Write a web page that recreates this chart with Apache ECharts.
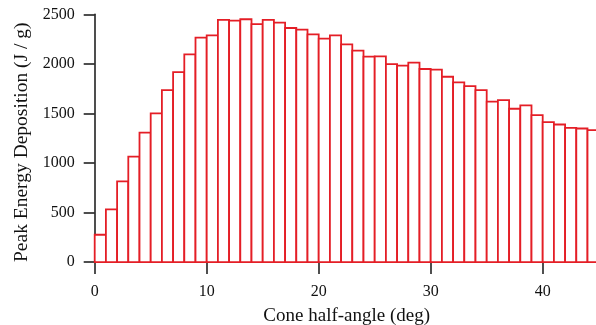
<!DOCTYPE html>
<html>
<head>
<meta charset="utf-8">
<script src="https://cdn.jsdelivr.net/npm/echarts@6/dist/echarts.min.js"></script>
<style>
html,body{margin:0;padding:0;background:#fff;}
#c{width:596px;height:325px;}
</style>
</head>
<body>
<div id="c"></div>
<script>
// Bin start angles (deg), bin width 1 deg
const binStarts = [0,1,2,3,4,5,6,7,8,9,10,11,12,13,14,15,16,17,18,19,20,21,22,23,24,25,26,27,28,29,30,31,32,33,34,35,36,37,38,39,40,41,42,43,44];
const binWidth = 1;
// Peak energy deposition (J / g)
const peakEnergy = [276,532,815,1065,1307,1500,1735,1917,2096,2265,2288,2443,2436,2450,2400,2443,2416,2362,2346,2298,2255,2288,2197,2133,2073,2076,1998,1982,2012,1948,1941,1870,1813,1776,1736,1618,1634,1547,1581,1483,1412,1388,1355,1348,1331];
const xTicks = [0,10,20,30,40];
const yTicks = [0,500,1000,1500,2000,2500];

const data = binStarts.map((s, i) => [s, s + binWidth, peakEnergy[i]]);
const font = 'Liberation Serif';
const red = '#e41e26';

const chart = echarts.init(document.getElementById('c'), null, {renderer: 'canvas'});
chart.setOption({
  animation: false,
  backgroundColor: '#fff',
  grid: {left: 94.7, top: 14.3, width: 504, height: 247.8, containLabel: false, outerBoundsMode: 'none'},
  xAxis: {
    type: 'value', min: 0, max: 45, interval: 10,
    name: 'Cone half-angle (deg)', nameLocation: 'middle', nameGap: 44,
    nameTextStyle: {fontFamily: font, fontSize: 19, color: '#111'},
    axisLine: {show: true, onZero: false, lineStyle: {color: '#222', width: 1.6}},
    axisTick: {show: true, length: 12, lineStyle: {color: '#222', width: 1.6}},
    axisLabel: {fontFamily: font, fontSize: 16, color: '#111', margin: 22, showMaxLabel: false,
      formatter: v => xTicks.indexOf(v) >= 0 ? String(v) : ''},
    splitLine: {show: false}
  },
  yAxis: {
    type: 'value', min: 0, max: 2500, interval: 500, offset: 2,
    name: 'Peak Energy Deposition (J / g)', nameLocation: 'middle', nameGap: 61, nameRotate: 90,
    nameTextStyle: {fontFamily: font, fontSize: 19.5, color: '#111', padding: [0, 8, 0, 0]},
    axisLine: {show: true, lineStyle: {color: '#222', width: 1.6}},
    axisTick: {show: true, length: 11, lineStyle: {color: '#222', width: 1.6}},
    axisLabel: {fontFamily: font, fontSize: 16, color: '#111', margin: 18,
      formatter: v => yTicks.indexOf(v) >= 0 ? String(v) : ''},
    splitLine: {show: false}
  },
  series: [{
    type: 'custom',
    clip: false,
    data: data,
    encode: {x: [0, 1], y: 2},
    renderItem: function (params, api) {
      const p0 = api.coord([api.value(0), 0]);
      const p1 = api.coord([api.value(1), api.value(2)]);
      return {
        type: 'rect',
        shape: {x: p0[0], y: p1[1], width: p1[0] - p0[0], height: p0[1] - p1[1]},
        style: {fill: '#fff', stroke: red, lineWidth: 1.8}
      };
    }
  }]
});
</script>
</body>
</html>
